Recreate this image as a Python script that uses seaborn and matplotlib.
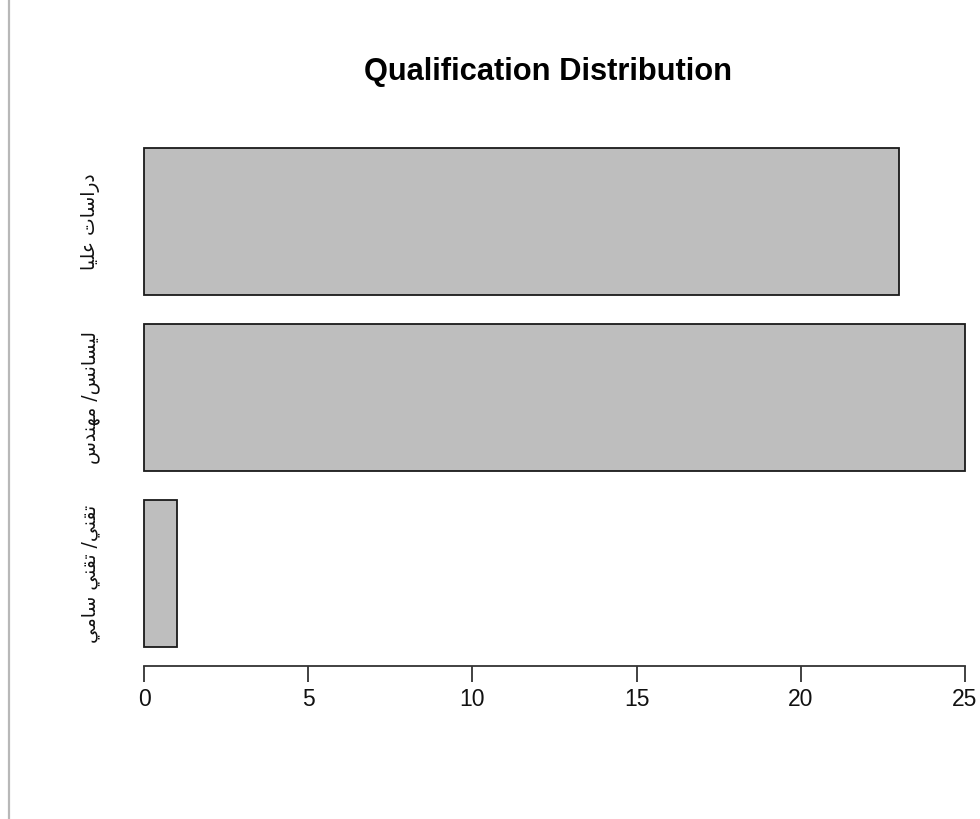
import matplotlib
matplotlib.use("Agg")
import matplotlib.pyplot as plt
from matplotlib.lines import Line2D
import seaborn as sns

# data, top to bottom
qualifications = ["دراسات عليا", "ليسانس/ مهندس", "تقني/ تقني سامي"]
counts = [23, 25, 1]
xticks = [0, 5, 10, 15, 20, 25]

# contextual forms (isolated, final, initial, medial) for the letters used
forms = {
    "ا": ("\uFE8D", "\uFE8E", None, None),
    "د": ("\uFEA9", "\uFEAA", None, None),
    "ر": ("\uFEAD", "\uFEAE", None, None),
    "س": ("\uFEB1", "\uFEB2", "\uFEB3", "\uFEB4"),
    "ت": ("\uFE95", "\uFE96", "\uFE97", "\uFE98"),
    "ع": ("\uFEC9", "\uFECA", "\uFECB", "\uFECC"),
    "ل": ("\uFEDD", "\uFEDE", "\uFEDF", "\uFEE0"),
    "ي": ("\uFEF1", "\uFEF2", "\uFEF3", "\uFEF4"),
    "ن": ("\uFEE5", "\uFEE6", "\uFEE7", "\uFEE8"),
    "م": ("\uFEE1", "\uFEE2", "\uFEE3", "\uFEE4"),
    "ه": ("\uFEE9", "\uFEEA", "\uFEEB", "\uFEEC"),
    "ق": ("\uFED5", "\uFED6", "\uFED7", "\uFED8"),
}


def shape(text):
    out = []
    for i, ch in enumerate(text):
        if ch not in forms:
            out.append(ch)
            continue
        prev = text[i - 1] if i > 0 else ""
        nxt = text[i + 1] if i + 1 < len(text) else ""
        join_prev = prev in forms and forms[prev][2] is not None
        join_next = forms[ch][2] is not None and nxt in forms
        iso, fin, ini, med = forms[ch]
        if join_prev and join_next:
            out.append(med)
        elif join_prev:
            out.append(fin)
        elif join_next:
            out.append(ini)
        else:
            out.append(iso)
    return "".join(out)[::-1]


labels = [shape(q) for q in qualifications]

sns.set_style("white")
plt.rcParams["font.family"] = ["Liberation Sans", "DejaVu Sans"]

fig = plt.figure(figsize=(9.8, 8.19), dpi=100)
ax = fig.add_axes([111.2 / 980, 1 - 666 / 819, (978 - 111.2) / 980, (666 - 128) / 819])

sns.barplot(x=counts, y=labels, orient="h", color="#bebebe", saturation=1,
            edgecolor="#1a1a1a", linewidth=1.3, width=0.835, ax=ax)

ax.set_xlim(-1, 25.4)
ax.set_ylim(2.525, -0.53)
for s in ["top", "right", "left"]:
    ax.spines[s].set_visible(False)
ax.spines["bottom"].set_bounds(0, 25)
ax.spines["bottom"].set_color("#333333")
ax.spines["bottom"].set_linewidth(1.3)
ax.set_xticks(xticks)
ax.tick_params(axis="x", bottom=True, direction="out", length=11.5, width=1.3,
               color="#333333", labelsize=16.5, pad=4, labelcolor="#111111")
ax.tick_params(axis="y", left=False, length=0, labelsize=13.5, pad=8, labelcolor="#111111")
for t in ax.get_yticklabels():
    t.set_rotation(90)
    t.set_va("center")
    t.set_family(["DejaVu Sans"])
ax.set_xlabel("")
ax.set_ylabel("")

fig.text(0.5595, 0.912, "Qualification Distribution", ha="center", va="center",
         fontsize=22.2, fontweight="bold", color="black")

fig.add_artist(Line2D([8.5 / 980, 8.5 / 980], [0, 1], color="#b8b8b8", lw=1.6))

fig.savefig("out.png", dpi=100)
